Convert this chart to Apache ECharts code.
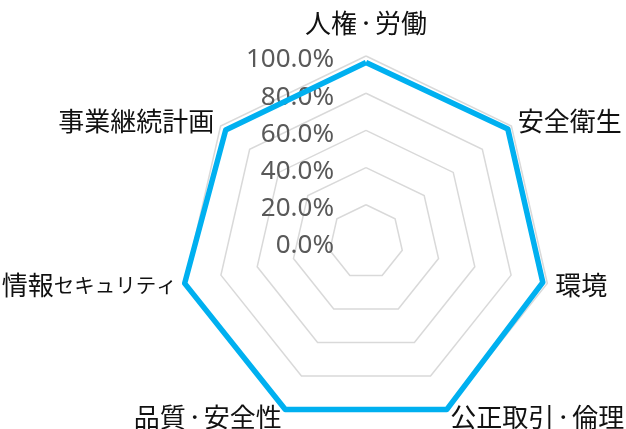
<!DOCTYPE html>
<html>
<head>
<meta charset="utf-8">
<script src="https://cdn.jsdelivr.net/npm/echarts@6/dist/echarts.min.js"></script>
<style>
html,body{margin:0;padding:0;background:#fff;}
#c{width:626px;height:429px;}
</style>
</head>
<body>
<div id="c"></div>
<script>
// Categories in clockwise order from the top (as in the reference)
const categories = ['人権・労働', '安全衛生', '環境', '公正取引・倫理', '品質・安全性', '情報セキュリティ', '事業継続計画'];
const scores = [0.965, 0.975, 0.975, 1.0, 1.0, 1.0, 0.965];
const tickValues = [0, 0.2, 0.4, 0.6, 0.8, 1.0];

// ECharts radar runs counter-clockwise: keep the first, reverse the rest
const order = [0].concat(categories.slice(1).map((_, i) => categories.length - 1 - i));
const indicator = order.map(i => ({ name: categories[i], min: 0, max: 1 }));
const values = order.map(i => scores[i]);

const CX = 366, CY = 242, R = 186;
const jpFont = '"Noto Sans CJK JP", sans-serif';

const chart = echarts.init(document.getElementById('c'), null, { renderer: 'canvas' });
chart.setOption({
  backgroundColor: '#ffffff',
  animation: false,
  radar: {
    center: [CX, CY],
    radius: R,
    startAngle: 90,
    shape: 'polygon',
    splitNumber: tickValues.length - 1,
    indicator: indicator,
    nameGap: 8,
    axisName: {
      color: '#111111',
      fontSize: 26,
      fontFamily: jpFont,
      formatter: function (name) {
        let s = name.replace('・', '{d|・}').replace('セキュリティ', '{k|セキュリティ}');
        if (name === categories[0]) s += '\n{s|}';
        return s;
      },
      rich: {
        d: { fontSize: 18, fontFamily: jpFont, color: '#111111' },
        k: { fontSize: 20.5, fontFamily: jpFont, color: '#111111' },
        s: { height: 12, lineHeight: 12, fontSize: 10 }
      }
    },
    axisLine: { show: false },
    axisTick: { show: false },
    axisLabel: { show: false },
    splitArea: { show: false },
    splitLine: { lineStyle: { color: '#d9d9d9', width: 1.5 } }
  },
  polar: { center: [CX, CY], radius: R },
  angleAxis: { type: 'value', startAngle: 90, min: 0, max: 360, show: false },
  radiusAxis: {
    type: 'value',
    min: tickValues[0],
    max: tickValues[tickValues.length - 1],
    interval: 0.2,
    axisLine: { show: false },
    axisTick: { show: false },
    splitLine: { show: false },
    axisLabel: {
      show: true,
      margin: 32,
      color: '#595959',
      fontSize: 26,
      fontFamily: '"Noto Sans", sans-serif',
      verticalAlign: 'top',
      lineHeight: 8,
      formatter: v => (v * 100).toFixed(1) + '%'
    }
  },
  series: [{
    type: 'radar',
    symbol: 'none',
    lineStyle: { color: '#00b0f0', width: 5.5 },
    itemStyle: { color: '#00b0f0' },
    data: [{ value: values, name: 'score' }]
  }]
});
</script>
</body>
</html>
